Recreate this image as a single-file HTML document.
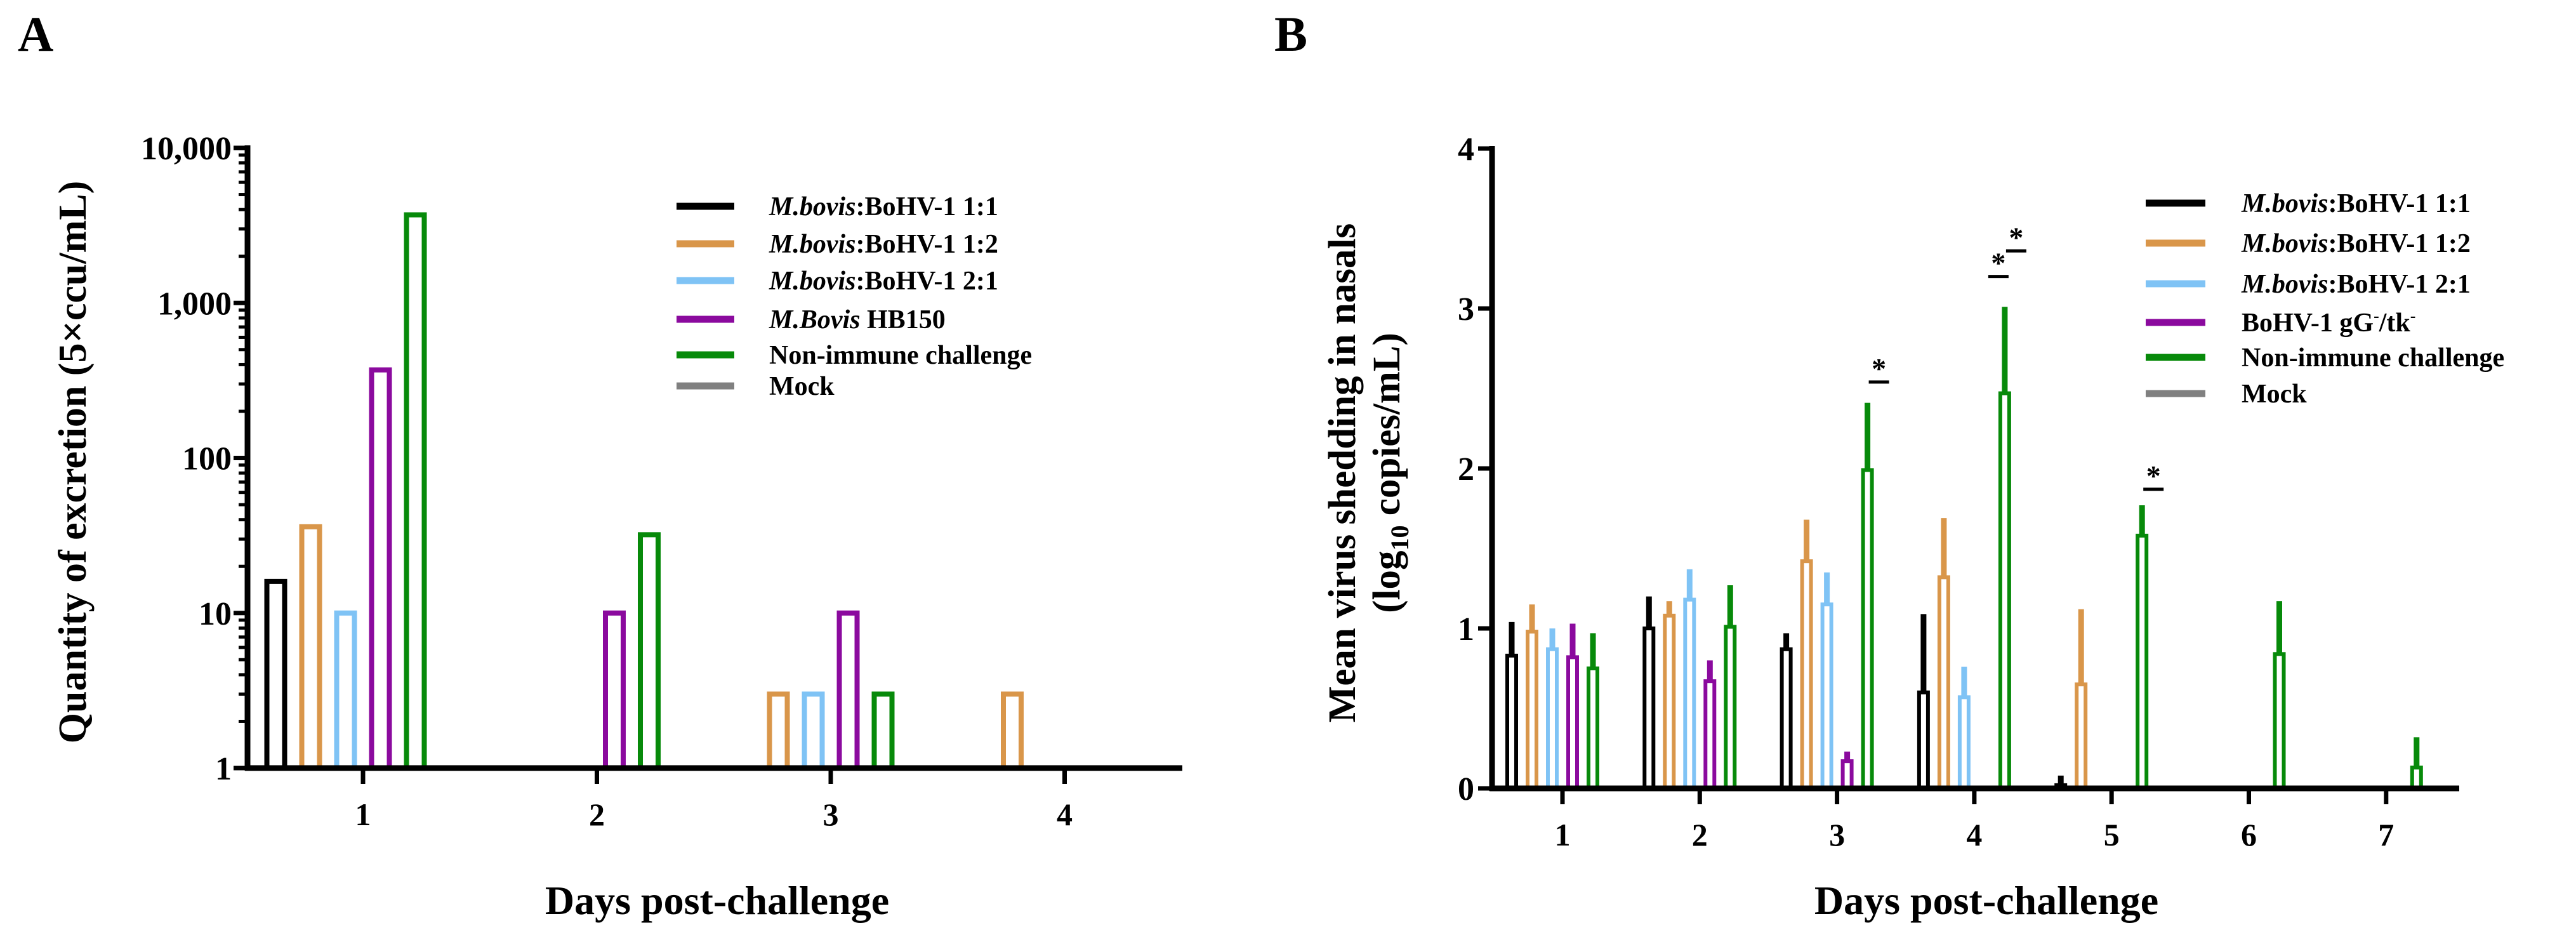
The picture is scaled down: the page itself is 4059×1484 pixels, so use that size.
<!DOCTYPE html>
<html><head><meta charset="utf-8"><style>
body{margin:0;background:#fff;}
svg{display:block;font-family:"Liberation Serif",serif;}
</style></head><body>
<svg id="svg" width="4059" height="1484" viewBox="0 0 4059 1484" xmlns="http://www.w3.org/2000/svg">
<text x="28" y="80" font-size="78" font-weight="bold">A</text>
<text x="2008" y="80" font-size="78" font-weight="bold">B</text>
<g id="chartA"></g>
<g id="chartB"></g>
</svg>
<script>
const seriesNames = ["M.bovis:BoHV-1 1:1","M.bovis:BoHV-1 1:2","M.bovis:BoHV-1 2:1","M.Bovis HB150","Non-immune challenge","Mock"];
const seriesNamesB = ["M.bovis:BoHV-1 1:1","M.bovis:BoHV-1 1:2","M.bovis:BoHV-1 2:1","BoHV-1 gG-/tk-","Non-immune challenge","Mock"];
const colors = ["#000000","#d9964a","#7fc3f5","#8b0a9e","#078a0a","#808080"];
const daysA = [1,2,3,4];
const valsA = [
  [16,0,0,0],
  [36,0,3,3],
  [10,0,3,0],
  [370,10,10,0],
  [3700,32,3,0],
  [0,0,0,0]
];
const yTicksA = ["1","10","100","1,000","10,000"];
const daysB = [1,2,3,4,5,6,7];
const meanB = [
  [0.83,1.0,0.87,0.6,0.02,0,0],
  [0.98,1.08,1.42,1.32,0.65,0,0],
  [0.87,1.18,1.15,0.57,0,0,0],
  [0.82,0.67,0.17,0,0,0,0],
  [0.75,1.01,1.99,2.47,1.58,0.84,0.13],
  [0,0,0,0,0,0,0]
];
const upperB = [
  [1.04,1.2,0.97,1.09,0.08,0,0],
  [1.15,1.17,1.68,1.69,1.12,0,0],
  [1.0,1.37,1.35,0.76,0,0,0],
  [1.03,0.8,0.23,0,0,0,0],
  [0.97,1.27,2.41,3.01,1.77,1.17,0.32],
  [0,0,0,0,0,0,0]
];
const yTicksB = [0,1,2,3,4];
const sigDay = [3,4,4,5];
const sigShift = [66,38,66,66];
const sigLevel = [2.54,3.2,3.36,1.87];

const NS="http://www.w3.org/2000/svg";
function mk(parent,tag,attrs,txt){const e=document.createElementNS(NS,tag);for(const k in attrs)e.setAttribute(k,attrs[k]);if(txt!==undefined)e.textContent=txt;parent.appendChild(e);return e;}

// ---------- Chart A ----------
const A=document.getElementById('chartA');
const ax0=390, ax1=1863, ayTop=233, ayBot=1210;
const xA=d=>572+(d-1)*368.5;
const yA=v=>ayBot-(Math.log10(v))/4*(ayBot-ayTop);
valsA.forEach((s,si)=>{s.forEach((v,di)=>{
  if(v<=1)return;
  const cx=xA(daysA[di])+(si-2.5)*55;
  const r=mk(A,'rect',{x:cx-14,y:yA(v),width:28,height:ayBot-yA(v),fill:'none',stroke:colors[si],'stroke-width':8});
  
  
});});
mk(A,'line',{x1:ax0,y1:ayTop-4,x2:ax0,y2:ayBot+4,stroke:'#000','stroke-width':9,});
mk(A,'line',{x1:ax0-4,y1:ayBot,x2:ax1,y2:ayBot,stroke:'#000','stroke-width':9,});
yTicksA.forEach((t,i)=>{
  const y=yA(Math.pow(10,i));
  mk(A,'line',{x1:ax0-22,y1:y,x2:ax0,y2:y,stroke:'#000','stroke-width':7});
  const tx=mk(A,'text',{x:ax0-25,y:y+18,'font-size':52,'font-weight':'bold','text-anchor':'end'},t);
  
  
  if(i<4)for(let m=2;m<10;m++){const ym=yA(Math.pow(10,i)*m);mk(A,'line',{x1:ax0-14,y1:ym,x2:ax0,y2:ym,stroke:'#000','stroke-width':5});}
});
daysA.forEach(d=>{
  mk(A,'line',{x1:xA(d),y1:ayBot,x2:xA(d),y2:ayBot+25,stroke:'#000','stroke-width':7});
  const t=mk(A,'text',{x:xA(d),y:ayBot+90,'font-size':50,'font-weight':'bold','text-anchor':'middle'},d);
  
  
});
mk(A,'text',{x:0,y:0,transform:'translate(135 728) rotate(-90)','font-size':62,'font-weight':'bold','text-anchor':'middle',},'Quantity of excretion (5×ccu/mL)');
mk(A,'text',{x:1130,y:1440,'font-size':64,'font-weight':'bold','text-anchor':'middle',},'Days post-challenge');
const legYA=[325,384,442,503,559,608];
seriesNames.forEach((n,i)=>{
  const g=mk(A,'g',{});
  
  
  mk(g,'line',{x1:1066,y1:legYA[i],x2:1157,y2:legYA[i],stroke:colors[i],'stroke-width':11});
  const t=mk(g,'text',{x:1212,y:legYA[i]+14,'font-size':42,'font-weight':'bold'});
  if(n.startsWith('M.')){const p=n.indexOf(':')>0?n.indexOf(':'):n.indexOf(' ');mk(t,'tspan',{'font-style':'italic'},n.slice(0,p));mk(t,'tspan',{},n.slice(p));}
  else t.textContent=n;
});

// ---------- Chart B ----------
const B=document.getElementById('chartB');
const bx0=2351, bx1=3875, byTop=234, byBot=1242;
const xB=d=>2462+(d-1)*216.3;
const yB=v=>byBot-v/4*(byBot-byTop);
meanB.forEach((s,si)=>{s.forEach((v,di)=>{
  const up=upperB[si][di];
  if(up<=0)return;
  const cx=xB(daysB[di])+(si-2.5)*32;
  const g=mk(B,'g',{});
  
  
  mk(g,'line',{x1:cx,y1:yB(v),x2:cx,y2:yB(up),stroke:colors[si],'stroke-width':9});
  if(v>0)mk(g,'rect',{x:cx-7,y:yB(v),width:14,height:byBot-yB(v),fill:'none',stroke:colors[si],'stroke-width':6});
});});
mk(B,'line',{x1:bx0,y1:byTop-4,x2:bx0,y2:byBot+4,stroke:'#000','stroke-width':9,});
mk(B,'line',{x1:bx0-4,y1:byBot,x2:bx1,y2:byBot,stroke:'#000','stroke-width':9,});
yTicksB.forEach(v=>{
  const y=yB(v);
  mk(B,'line',{x1:bx0-22,y1:y,x2:bx0,y2:y,stroke:'#000','stroke-width':7});
  const t=mk(B,'text',{x:bx0-28,y:y+18,'font-size':52,'font-weight':'bold','text-anchor':'end'},v);
  
  
});
daysB.forEach(d=>{
  mk(B,'line',{x1:xB(d),y1:byBot,x2:xB(d),y2:byBot+25,stroke:'#000','stroke-width':7});
  const t=mk(B,'text',{x:xB(d),y:byBot+90,'font-size':50,'font-weight':'bold','text-anchor':'middle'},d);
  
  
});
sigDay.forEach((d,i)=>{
  const cx=xB(d)+sigShift[i];
  const y=yB(sigLevel[i]);
  const g=mk(B,'g',{});
  
  
  mk(g,'line',{x1:cx-16,y1:y,x2:cx+16,y2:y,stroke:'#000','stroke-width':5});
  mk(g,'text',{x:cx,y:y-6,'font-size':46,'font-weight':'bold','text-anchor':'middle'},'*');
});
const ytB=mk(B,'text',{transform:'translate(2135 745) rotate(-90)','font-size':61,'font-weight':'bold','text-anchor':'middle'},'Mean virus shedding in nasals');

const yt2=mk(B,'text',{transform:'translate(2205 745) rotate(-90)','font-size':61,'font-weight':'bold','text-anchor':'middle'});

mk(yt2,'tspan',{},'(log');mk(yt2,'tspan',{'font-size':40,dy:14},'10');mk(yt2,'tspan',{dy:-14},' copies/mL)');
mk(B,'text',{x:3130,y:1440,'font-size':64,'font-weight':'bold','text-anchor':'middle',},'Days post-challenge');
const legYB=[320,383,447,508,563,620];
seriesNamesB.forEach((n,i)=>{
  const g=mk(B,'g',{});
  
  
  mk(g,'line',{x1:3381,y1:legYB[i],x2:3475,y2:legYB[i],stroke:colors[i],'stroke-width':11});
  const t=mk(g,'text',{x:3532,y:legYB[i]+14,'font-size':42,'font-weight':'bold'});
  if(n.startsWith('M.')){const p=n.indexOf(':');mk(t,'tspan',{'font-style':'italic'},n.slice(0,p));mk(t,'tspan',{},n.slice(p));}
  else if(n.startsWith('BoHV-1 gG')){mk(t,'tspan',{},'BoHV-1 gG');mk(t,'tspan',{'font-size':26,dy:-16},'-');mk(t,'tspan',{dy:16},'/tk');mk(t,'tspan',{'font-size':26,dy:-16},'-');}
  else t.textContent=n;
});
</script>
</body></html>
